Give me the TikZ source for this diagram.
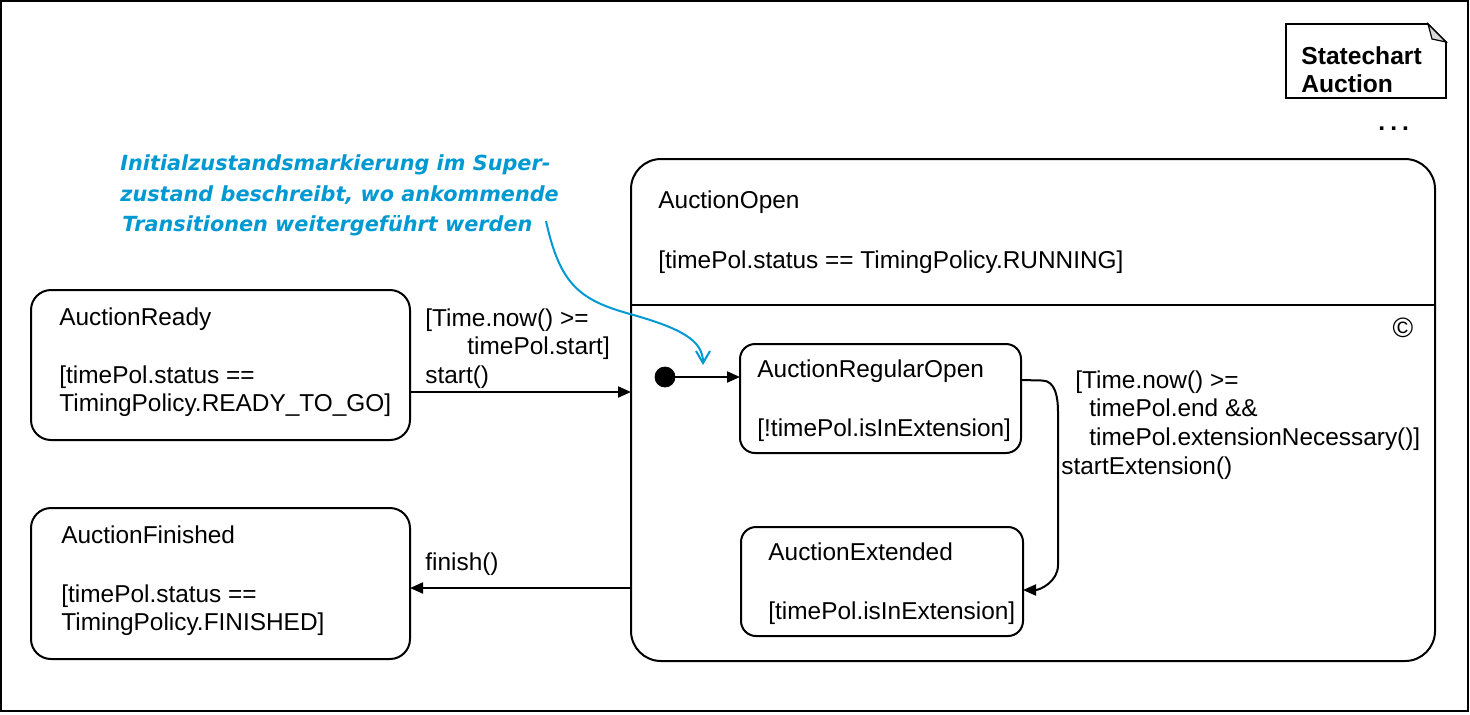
\documentclass[tikz,border=0pt]{standalone}
\usepackage{fontspec}
\setmainfont{Liberation Sans}
\newfontfamily\annotfont{DejaVu Sans}
\usetikzlibrary{arrows.meta,calc}
\definecolor{annot}{RGB}{0,153,210}
\definecolor{foldgray}{RGB}{215,215,215}
\begin{document}
\begin{tikzpicture}[x=0.5pt,y=-0.5pt,
  state/.style={draw, line width=1pt, inner sep=0pt, outer sep=0pt, anchor=north west},
  txt/.style={anchor=base west, inner sep=0pt, yshift=-1pt, font=\fontsize{12.2}{14}\selectfont},
  notetxt/.style={anchor=base west, inner sep=0pt, font=\fontsize{12.3}{14}\selectfont\bfseries},
  antxt/.style={anchor=base west, inner sep=0pt, text=annot, font=\annotfont\fontsize{10.4}{12}\selectfont\bfseries\itshape},
  trans/.style={draw, line width=1pt, -{Triangle[length=6.5pt,width=5.5pt]}},
  initstate/.style={circle, fill=black, draw=black, minimum size=10pt, inner sep=0pt}]
\useasboundingbox (0,0) rectangle (1470,714);
\draw[line width=1pt] (1,1) rectangle (1468,711);

% note
\coordinate (noteNW) at (1286,24);
\draw[line width=0.8pt, fill=white] (noteNW) -- (1428,24) -- (1446,42) -- (1446,98) -- (1286,98) -- cycle;
\draw[line width=0.6pt, fill=foldgray] (1428,24) -- (1432,39) -- (1446,42) -- cycle;
\node[notetxt] (noteA) at (1301,64) {Statechart};
\node[notetxt] (noteB) at (1301,92) {Auction};
\node[notetxt] (dots) at (1378,130) {.\kern2.5pt.\kern2.5pt.};

% annotation
\node[antxt] (an1) at (120,170) {Initialzustandsmarkierung im Super-};
\node[antxt] (an2) at (120,201) {zustand beschreibt, wo ankommende};
\node[antxt] (an3) at (122,231) {Transitionen weitergeführt werden};

% states
\node[state, rounded corners=10pt, minimum width=189.5pt, minimum height=75pt] (ready) at (31,290) {};
\node[txt] at (59,323) {AuctionReady};
\node[txt] at (59,381) {[timePol.status ==};
\node[txt] at (59,409.5) {TimingPolicy.READY\_TO\_GO]};

\node[state, rounded corners=10pt, minimum width=189.5pt, minimum height=75.5pt] (finished) at (31,508) {};
\node[txt] at (61,541) {AuctionFinished};
\node[txt] at (61,600) {[timePol.status ==};
\node[txt] at (61,628.5) {TimingPolicy.FINISHED]};

\node[state, rounded corners=15pt, minimum width=402pt, minimum height=251pt] (open) at (631,159) {};
\draw[line width=1pt] (631,305) -- (1435,305);
\node[txt] at (658,206) {AuctionOpen};
\node[txt] at (658,266) {[timePol.status == TimingPolicy.RUNNING]};
\node[inner sep=0pt, font=\fontsize{14}{16}\selectfont] (copy) at (1403,328) {©};

\node[state, rounded corners=7.5pt, minimum width=140.5pt, minimum height=54.5pt] (regular) at (740,344) {};
\node[txt] at (757,375) {AuctionRegularOpen};
\node[txt] at (757,434) {[!timePol.isInExtension]};

\node[state, rounded corners=7.5pt, minimum width=141pt, minimum height=54.5pt] (extended) at (741,527) {};
\node[txt] at (768,558) {AuctionExtended};
\node[txt] at (768,617) {[timePol.isInExtension]};

\node[initstate] (init) at (665,377) {};

% transitions
\draw[trans] ([yshift=-13.5pt]ready.east) -- ([yshift=-13.5pt]ready.east -| open.west);
\node[txt] at (425,324) {[Time.now() >=};
\node[txt] at (467,352.5) {timePol.start]};
\node[txt] at (425,381) {start()};

\draw[trans] ([yshift=-2.25pt]finished.east -| open.west) -- ([yshift=-2.25pt]finished.east);
\node[txt] at (425,568) {finish()};

\draw[trans] (init) -- (init -| regular.west);

\draw[trans]
  ([yshift=9.25pt]regular.east) -- (1042,380.5) to[out=0,in=90] (1058,412) -- (1058,565) to[out=-90,in=0] ([yshift=-4.25pt]extended.east);
\node[txt] at (1075,386) {[Time.now() >=};
\node[txt] at (1089,414.5) {timePol.end \&\&};
\node[txt] at (1089,443) {timePol.extensionNecessary()]};
\node[txt] at (1061,472) {startExtension()};

% annotation arrow
\coordinate (anStart) at (546,221);
\coordinate (anTarget) at (703,365);
\draw[annot, line width=1pt, -{Straight Barb[length=6pt,width=7pt]}]
  (anStart) .. controls (560,285) and (580,300) .. (630,314) .. controls (680,328) and (703,340) .. (anTarget);
\end{tikzpicture}
\end{document}
